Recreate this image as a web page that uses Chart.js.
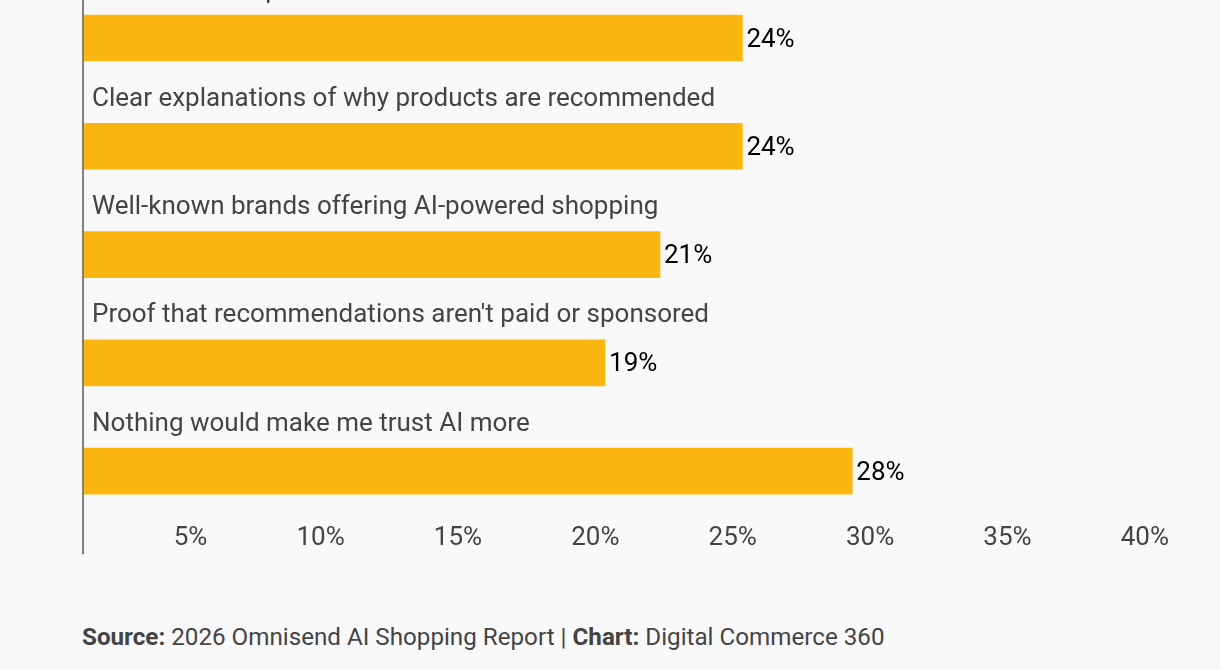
<!DOCTYPE html>
<html>
<head>
<meta charset="utf-8">
<script src="https://cdn.jsdelivr.net/npm/chart.js@4"></script>
<style>
  html, body { margin: 0; padding: 0; background: #f9f9f9; width: 1220px; height: 670px; overflow: hidden; }
  #wrap { position: absolute; left: 0; top: -60px; width: 1220px; height: 616px; }
  #source { position: absolute; left: 82px; top: 623px; font-family: Roboto, sans-serif; font-size: 24.2px; color: #444; white-space: nowrap; }
  #source b { font-weight: 700; }
</style>
</head>
<body>
<div id="wrap"><canvas id="chart"></canvas></div>
<div id="source"><b>Source:</b> 2026 Omnisend AI Shopping Report | <b>Chart:</b> Digital Commerce 360</div>
<script>
// categories, top to bottom (first one is cut off at the top of the picture)
const categories = [
    'More accurate product information',
    'Clear explanations of why products are recommended',
    'Well-known brands offering AI-powered shopping',
    "Proof that recommendations aren't paid or sponsored",
    'Nothing would make me trust AI more'
];
const shares = [24, 24, 21, 19, 28];
const shareLabels = ['24%', '24%', '21%', '19%', '28%'];
const xTicks = [0, 5, 10, 15, 20, 25, 30, 35, 40];

const barLabels = {
    id: 'barLabels',
    afterDatasetsDraw(chart) {
        const ctx = chart.ctx;
        const meta = chart.getDatasetMeta(0);
        ctx.save();
        ctx.textBaseline = 'middle';
        ctx.textAlign = 'left';
        ctx.font = '26px Roboto';
        meta.data.forEach((bar, i) => {
            ctx.fillStyle = '#000';
            ctx.fillText(shareLabels[i], bar.x + 4, bar.y + 2);
            ctx.fillStyle = '#444';
            ctx.fillText(categories[i], chart.chartArea.left + 9, bar.y - 47);
        });
        ctx.restore();
    }
};

// vertical zero line that runs past the plot into the tick row
const zeroLine = {
    id: 'zeroLine',
    afterDraw(chart) {
        const ctx = chart.ctx;
        const x = chart.scales.x.getPixelForValue(0);
        ctx.save();
        ctx.strokeStyle = '#808080';
        ctx.lineWidth = 2;
        ctx.beginPath();
        ctx.moveTo(x, 0);
        ctx.lineTo(x, chart.chartArea.bottom + 29);
        ctx.stroke();
        ctx.restore();
    }
};

new Chart(document.getElementById('chart'), {
    type: 'bar',
    data: {
        labels: categories,
        datasets: [{
            data: shares,
            backgroundColor: '#fbb70f',
            barThickness: 46,
            borderWidth: 0
        }]
    },
    options: {
        indexAxis: 'y',
        responsive: true,
        maintainAspectRatio: false,
        animation: false,
        layout: { padding: { left: 83, right: 38, top: 43.9, bottom: 4.2 } },
        plugins: { legend: { display: false }, tooltip: { enabled: false } },
        scales: {
            y: { display: false },
            x: {
                min: 0,
                max: 40,
                afterBuildTicks(scale) { scale.ticks = xTicks.map(v => ({ value: v })); },
                grid: { display: false, drawTicks: false },
                border: { display: false },
                ticks: {
                    align: 'end',
                    labelOffset: -13,
                    padding: -2.3,
                    color: '#444',
                    font: { family: 'Roboto', size: 26 },
                    callback: (v) => v === 0 ? '' : v + '%'
                }
            }
        }
    },
    plugins: [barLabels, zeroLine]
});
</script>
</body>
</html>
